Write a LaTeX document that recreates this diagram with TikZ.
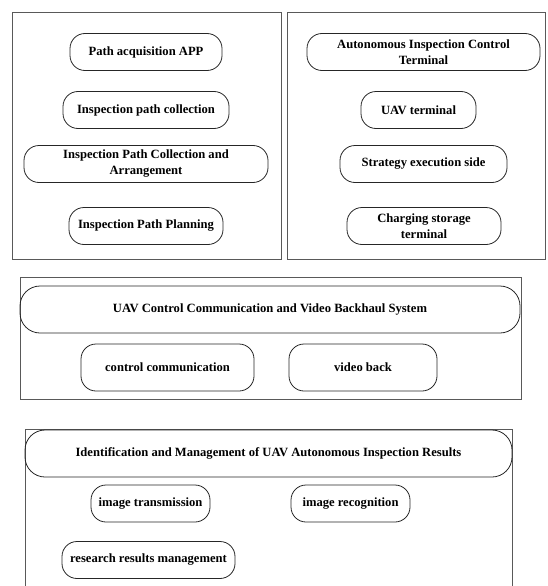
\documentclass[tikz,border=0pt]{standalone}
\usepackage{fontspec}
\setmainfont{Liberation Serif}
\usepackage{tikz}

\begin{document}
\begin{tikzpicture}[x=1pt, y=-1pt, line width=0.8pt]

\useasboundingbox (0,0) rectangle (547,586);
\clip (0,0) rectangle (547,586);

\tikzstyle{every node}=[draw=black!85, rounded corners=15pt, minimum height=37pt, inner sep=2pt,
  align=center, font=\fontsize{12.6}{16}\selectfont\bfseries]
\tikzstyle{frame}=[draw=black!65]

% outer frames
\draw[frame] (12,12) rectangle (281,259);
\draw[frame] (287,12) rectangle (545.5,259);
\draw[frame] (20,277) rectangle (521,399);
\draw[frame] (25,429) rectangle (512,600);

% path planning side
\draw (146, 52)  node[minimum width=152pt] (app)   {Path acquisition APP}
      (146, 110) node[minimum width=166pt] (coll)  {Inspection path collection}
      (146, 164) node[minimum width=244pt] (arr)   {Inspection Path Collection and\\Arrangement}
      (146, 226) node[minimum width=154pt] (plan)  {Inspection Path Planning};

% control terminal side
\draw (423.5, 52)  node[minimum width=233pt] (ctrl)  {Autonomous Inspection Control\\Terminal}
      (418.5, 110) node[minimum width=115pt] (uav)   {UAV terminal}
      (423.5, 164) node[minimum width=167pt] (exec)  {Strategy execution side}
      (424, 226)   node[minimum width=154pt] (charge){Charging storage\\terminal};

% communication system
\draw (270, 309.5)   node[minimum width=500pt, minimum height=47pt, rounded corners=20pt] (comm)  {UAV Control Communication and Video Backhaul System}
      (167.5, 367.5) node[minimum width=173pt, minimum height=47pt] (cc)    {control communication}
      (363, 367.5)   node[minimum width=148pt, minimum height=47pt] (vb)    {video back};

% results management
\draw (268.5, 453.5) node[minimum width=487pt, minimum height=47pt, rounded corners=20pt] (res)   {Identification and Management of UAV Autonomous Inspection Results}
      (150.5, 503.5) node[minimum width=119pt] (trans) {image transmission}
      (350.5, 503.5) node[minimum width=119pt] (recog) {image recognition}
      (148.5, 560)   node[minimum width=173pt] (mgmt)  {research results management};

\end{tikzpicture}
\end{document}
